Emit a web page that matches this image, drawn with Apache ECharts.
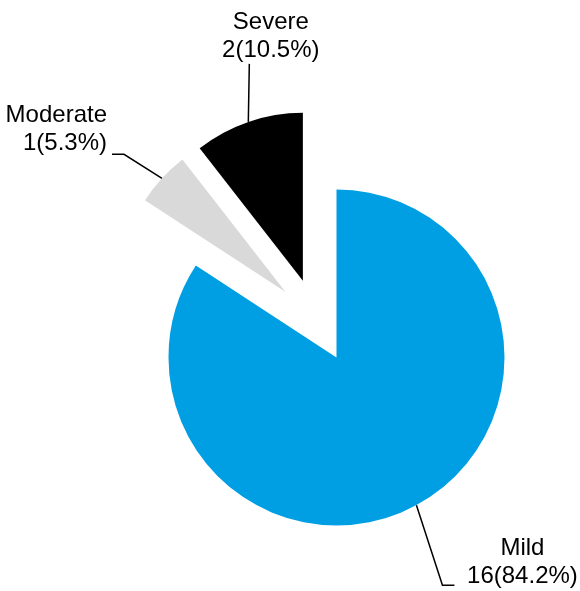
<!DOCTYPE html>
<html><head><meta charset="utf-8">
<script src="https://cdn.jsdelivr.net/npm/echarts@6/dist/echarts.min.js"></script>
<style>html,body{margin:0;padding:0;background:#fff}#c{width:580px;height:591px}</style>
</head><body><div id="c"></div>
<script>
const categories = ['Mild', 'Moderate', 'Severe'];
const values = [16, 1, 2];
const colors = ['#009FE3', '#D9D9D9', '#000000'];
// label guide shapes, relative to the arc anchor point supplied by ECharts
const guides = [
  {seg1: [26, 80], seg2: [12, 0], dx: 68, dy: 5, align: 'center'},
  {seg1: [-38, -24], seg2: [-12, 0], dx: -5, dy: 3, align: 'right'},
  {seg1: [1, -58], seg2: [0, 0], dx: 21.5, dy: 0, align: 'center'}
];
const chart = echarts.init(document.getElementById('c'), null, {renderer: 'canvas'});
chart.setOption({
  animation: false,
  series: [{
    type: 'pie',
    center: [316.5, 320.5],
    radius: 168,
    startAngle: 90,
    clockwise: true,
    avoidLabelOverlap: false,
    percentPrecision: 1,
    selectedMode: 'multiple',
    selectedOffset: 42,
    emphasis: {disabled: true},
    data: categories.map((n, i) => ({name: n, value: values[i], selected: true, itemStyle: {color: colors[i]}})),
    label: {
      formatter: '{b}\n{c}({d}%)',
      fontFamily: 'Liberation Sans, Arial, sans-serif',
      fontSize: 24, lineHeight: 28, color: '#000'
    },
    labelLine: {show: true, length: 20, length2: 10, lineStyle: {color: '#000', width: 1.5}},
    labelLayout: function (p) {
      const g = guides[p.dataIndex];
      const pts = p.labelLinePoints;
      const r = p.labelRect;
      if (!pts || !r) return {};
      const a = pts[0];
      const b = [a[0] + g.seg1[0], a[1] + g.seg1[1]];
      const c = [b[0] + g.seg2[0], b[1] + g.seg2[1]];
      const ax = p.align === 'right' ? r.x + r.width : (p.align === 'left' ? r.x : r.x + r.width / 2);
      const ay = p.verticalAlign === 'bottom' ? r.y + r.height : (p.verticalAlign === 'top' ? r.y : r.y + r.height / 2);
      const tx = c[0] + g.dx, ty = c[1] + g.dy;
      return {dx: tx - ax, dy: ty - ay, align: g.align, verticalAlign: 'bottom', labelLinePoints: [a, b, c]};
    }
  }]
});
</script></body></html>
